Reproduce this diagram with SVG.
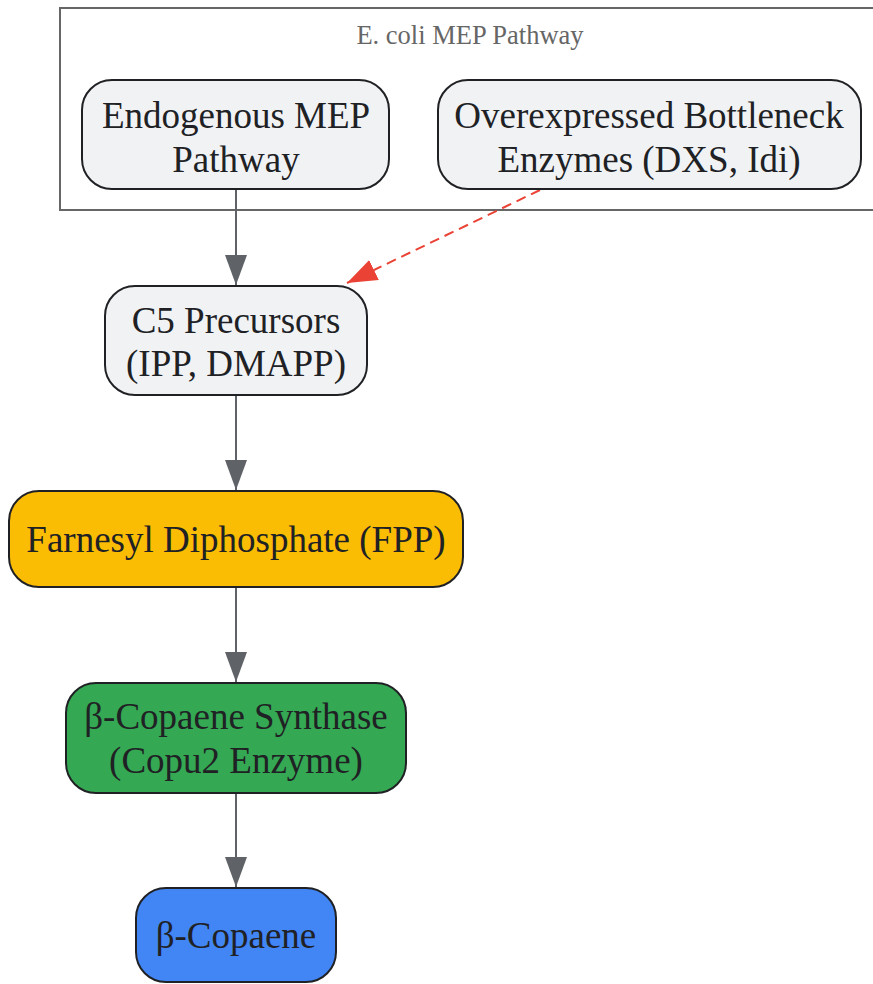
<svg xmlns="http://www.w3.org/2000/svg" width="873" height="984" viewBox="0 0 873 984">
<style>
.node rect{stroke:#202124;stroke-width:2}
.node text{font-family:"Liberation Serif","Times New Roman",serif;font-size:37px;fill:#202124;text-anchor:middle}
.gray rect{fill:#f1f2f4}
.edge{stroke:#5f6368;stroke-width:2;fill:none}
.dash{stroke:#ea4335;stroke-width:2;fill:none;stroke-dasharray:10 6}
</style>
<defs>
<marker id="ag" viewBox="0 0 30 22" refX="30" refY="11" markerWidth="30" markerHeight="22" markerUnits="userSpaceOnUse" orient="auto"><path d="M0,0 L30,11 L0,22 z" fill="#5f6368"/></marker>
<marker id="ar" viewBox="0 0 30 22" refX="30" refY="11" markerWidth="30" markerHeight="22" markerUnits="userSpaceOnUse" orient="auto"><path d="M0,0 L30,11 L0,22 z" fill="#ea4335"/></marker>
</defs>
<rect width="873" height="984" fill="#ffffff"/>
<g id="cluster">
<rect x="60" y="8" width="822" height="202" fill="none" stroke="#666" stroke-width="2"/>
<text x="470" y="44" font-family="Liberation Serif,serif" font-size="26.5" fill="#666" text-anchor="middle">E. coli MEP Pathway</text>
</g>
<g id="connectors">
<line class="edge" x1="236" y1="189" x2="236" y2="285" marker-end="url(#ag)"/>
<line class="edge" x1="236" y1="395" x2="236" y2="490" marker-end="url(#ag)"/>
<line class="edge" x1="236" y1="587" x2="236" y2="682" marker-end="url(#ag)"/>
<line class="edge" x1="236" y1="793" x2="236" y2="887" marker-end="url(#ag)"/>
<line class="dash" x1="540" y1="190" x2="347" y2="283" marker-end="url(#ar)"/>
</g>
<g id="endogenous" class="node gray">
<rect x="82" y="80" width="307" height="109" rx="30"/>
<text x="236" y="128">Endogenous MEP</text>
<text x="236" y="172">Pathway</text>
</g>
<g id="bottleneck" class="node gray">
<rect x="438" y="80" width="423" height="109" rx="30"/>
<text x="649" y="128">Overexpressed Bottleneck</text>
<text x="649" y="172">Enzymes (DXS, Idi)</text>
</g>
<g id="c5" class="node gray">
<rect x="105" y="286" width="262" height="109" rx="30"/>
<text x="236" y="333">C5 Precursors</text>
<text x="236" y="376">(IPP, DMAPP)</text>
</g>
<g id="fpp" class="node">
<rect x="9" y="491" width="454" height="96" rx="30" fill="#fbbc04"/>
<text x="236" y="552">Farnesyl Diphosphate (FPP)</text>
</g>
<g id="synthase" class="node">
<rect x="66" y="683" width="340" height="110" rx="30" fill="#34a853"/>
<text x="236" y="729">β-Copaene Synthase</text>
<text x="236" y="773">(Copu2 Enzyme)</text>
</g>
<g id="copaene" class="node">
<rect x="136" y="888" width="200" height="94" rx="30" fill="#4285f4"/>
<text x="236" y="948">β-Copaene</text>
</g>
</svg>
